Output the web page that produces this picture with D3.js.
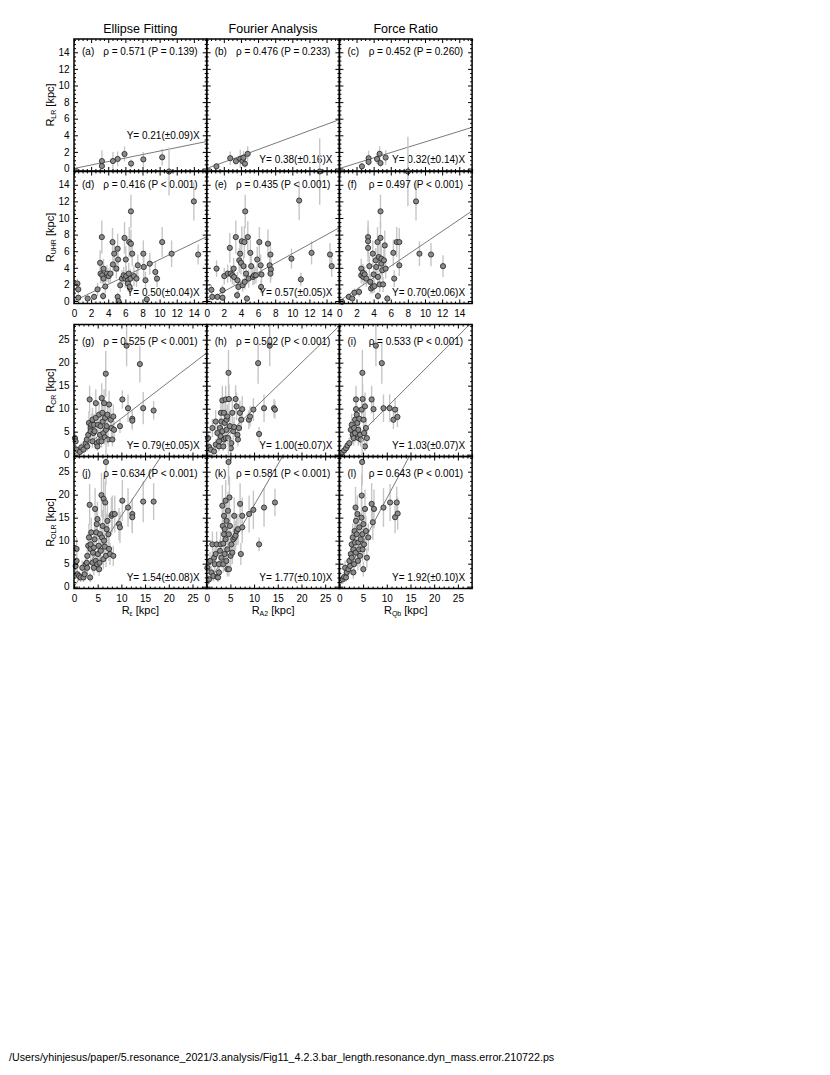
<!DOCTYPE html>
<meta charset="utf-8">
<style>
body { margin: 0; background: #fff; }
svg { font-family: "Liberation Sans", Arial, Helvetica, sans-serif; }
.frame { fill: none; stroke: #000; stroke-width: 1.5; }
.err { stroke: #c6c6c6; stroke-width: 1.4; }
.fit { stroke: #7a7a7a; stroke-width: 1; fill: none; }
.pt { fill: #8a8a8a; stroke: #222; stroke-width: 0.8; }
.lbl { font-size: 10px; fill: #000; }
.title { font-size: 12.5px; fill: #000; }
.axtitle { font-size: 11px; fill: #000; }
.footer { font-size: 10.7px; fill: #000; }
</style>
<body>
<script src="https://cdn.jsdelivr.net/npm/d3@7"></script>
<script>

// ---- data: [x, y, yerr] ----
var ptsA = [[3.26,0.9,1.3],[3.26,0.3,0.5],[4.55,0.9,1.1],[5.1,1.15,0.9],[5.9,1.75,0.9],[6.67,0.6,0.5],[8.1,1.1,0.9],[10.3,1.35,1.0]];
var ptsB = [[1.14,0.26,0.4],[2.75,1.24,0.8],[3.41,0.88,0.4],[3.92,1.15,1.1],[4.18,0.9,0.6],[4.3,1.3,0.8],[4.47,0.58,0.5],[4.79,1.77,0.9]];
var ptsC = [[2.63,0.26,0.4],[3.41,1.24,0.9],[3.41,0.8,0.4],[4.4,1.15,0.6],[4.7,1.77,0.9],[4.8,0.66,0.5],[5.4,1.32,0.9]];

var ptsD = [[0.4,2.1,0.6],[0.5,1.4,0.5],[0.5,0.4,0.4],[1.6,0.3,0.3],[2.35,0.5,0.4],[2.75,1.4,0.8],[3.4,0.6,0.5],[3.05,4.6,1.5],[3.1,3.3,1.2],[3.3,3.1,1.0],[3.25,7.7,2.0],[3.45,2.7,1.0],[3.65,1.75,0.8],[3.45,3.9,1.2],[3.85,3.3,1.0],[4.05,3.0,0.9],[4.25,3.3,1.1],[4.5,7.1,1.7],[4.55,4.4,1.4],[4.7,5.7,1.6],[4.95,3.9,1.2],[5.1,0.5,0.5],[5.2,0.0,0.4],[5.1,6.3,1.8],[5.15,5.0,1.5],[5.4,1.9,0.8],[5.6,2.7,1.0],[5.8,3.1,1.0],[6.0,2.7,1.1],[5.9,7.6,1.9],[6.05,5.0,1.6],[6.1,3.0,1.2],[6.3,2.5,1.0],[6.3,2.1,0.9],[6.4,3.3,1.3],[6.45,7.1,1.8],[6.5,1.7,0.8],[6.6,2.7,1.1],[6.65,10.8,2.0],[6.65,6.9,1.7],[6.8,5.7,1.5],[7.0,3.0,1.2],[7.3,2.7,1.0],[7.45,4.3,1.3],[8.1,5.7,1.6],[8.15,4.1,1.4],[8.35,2.5,1.0],[8.5,0.2,0.4],[8.85,4.5,1.3],[9.5,3.5,1.2],[9.7,2.7,1.0],[10.3,7.1,1.8],[11.4,5.7,1.6],[14.0,12.0,2.3],[14.5,5.6,1.2],[11.1,15.6,2.9]];
var ptsE = [[0.55,1.35,0.6],[0.65,0.5,0.4],[1.25,0.5,0.4],[1.15,3.9,1.0],[1.85,0.4,0.4],[1.85,1.3,0.6],[2.05,3.0,1.0],[2.45,3.3,1.1],[2.7,6.4,1.8],[2.8,3.3,1.0],[3.0,3.1,1.1],[3.15,3.9,1.3],[3.2,2.9,1.0],[3.4,7.7,2.0],[3.55,0.7,0.5],[3.6,2.5,1.0],[3.7,1.7,0.8],[3.8,4.9,1.5],[3.9,5.7,1.6],[4.0,4.6,1.4],[4.1,7.2,1.8],[4.2,1.9,0.8],[4.3,4.2,1.3],[4.4,7.1,1.9],[4.45,2.3,0.9],[4.5,10.8,2.0],[4.6,3.3,1.2],[4.7,0.3,0.4],[4.8,7.7,1.9],[4.9,2.7,1.1],[5.1,5.8,1.6],[5.2,4.2,1.3],[5.4,2.9,1.0],[5.55,3.1,1.1],[5.75,3.1,1.0],[5.9,5.0,1.5],[6.15,7.1,1.8],[6.3,4.3,1.3],[6.35,1.7,0.8],[6.4,3.2,1.1],[7.15,6.9,1.7],[7.35,4.3,1.3],[7.45,5.6,1.5],[7.5,3.8,1.2],[7.45,3.3,1.1],[9.9,5.1,1.2],[10.8,12.1,2.3],[11.0,2.6,0.8],[12.25,5.8,1.4],[14.4,5.6,1.4],[14.6,4.2,1.3],[13.2,15.6,4.0]];
var ptsF = [[0.3,-0.1,0.3],[1.1,0.5,0.4],[1.5,0.3,0.3],[1.75,1.0,0.5],[2.3,1.1,0.6],[2.55,3.9,1.2],[2.55,3.1,1.0],[2.75,3.4,1.1],[2.8,2.9,1.0],[2.95,3.2,1.0],[3.15,2.7,1.0],[3.35,7.7,2.0],[3.35,6.4,1.7],[3.35,7.2,1.8],[3.5,4.2,1.3],[3.6,2.3,0.9],[3.7,1.5,0.7],[3.9,5.7,1.6],[3.9,1.7,0.8],[4.0,3.2,1.1],[4.1,1.8,0.8],[4.25,4.9,1.5],[4.3,4.1,1.3],[4.45,7.1,1.8],[4.5,2.9,1.0],[4.5,0.6,0.5],[4.6,5.3,1.5],[4.7,2.0,0.9],[4.8,10.8,2.0],[4.8,7.6,1.9],[4.9,5.1,1.5],[4.9,4.5,1.4],[5.0,3.7,1.2],[5.1,2.0,0.9],[5.2,4.9,1.5],[5.3,6.7,1.8],[5.4,3.9,1.2],[5.6,0.3,0.4],[6.4,2.7,1.0],[6.3,5.8,1.6],[6.7,7.1,1.8],[7.0,7.1,1.7],[7.0,4.3,1.3],[8.95,12.0,2.3],[9.35,5.7,1.5],[10.7,5.6,1.4],[12.1,4.2,1.3],[8.0,15.6,4.2]];

var ptsG = [[0.2,3.6,1.5],[0.35,2.9,1.2],[0.55,1.1,0.8],[1.25,0.6,0.6],[1.55,1.6,1.0],[2.0,1.1,0.8],[2.45,2.5,1.2],[2.8,1.8,1.0],[2.7,3.3,1.5],[3.0,4.3,2.0],[3.15,6.9,2.5],[3.3,12.0,3.0],[3.5,5.8,2.2],[3.5,5.1,2.0],[3.65,6.5,2.4],[3.9,2.9,1.4],[3.9,7.6,2.6],[4.1,4.7,2.0],[4.2,6.5,2.4],[4.35,5.1,2.0],[4.6,11.2,3.0],[4.6,8.0,2.6],[4.8,2.5,1.2],[4.95,1.8,1.0],[5.05,6.5,2.4],[5.3,8.7,2.8],[5.3,2.9,1.4],[5.5,4.3,1.8],[5.6,6.2,2.2],[5.8,2.9,1.4],[5.85,12.3,3.2],[6.0,9.1,2.8],[6.05,7.2,2.5],[6.2,4.7,2.0],[6.35,11.2,3.0],[6.5,3.8,1.6],[6.55,8.0,2.6],[6.7,17.6,5.0],[6.75,5.4,2.0],[6.9,6.2,2.2],[7.05,8.7,2.8],[7.2,3.3,1.5],[7.4,10.9,3.0],[7.75,7.6,2.5],[7.9,5.8,2.2],[8.1,3.3,1.5],[8.3,8.3,2.6],[8.45,5.4,2.0],[9.7,6.2,1.5],[10.2,12.0,2.0],[11.1,23.7,4.5],[11.4,10.1,3.0],[12.3,7.8,2.0],[12.3,7.4,2.0],[13.9,19.7,4.0],[14.6,10.1,3.5],[16.8,9.6,2.0]];
var ptsH = [[0.3,3.6,1.5],[0.5,1.7,1.0],[0.85,1.1,0.8],[1.2,5.8,2.0],[1.55,0.7,0.6],[1.9,2.2,1.2],[1.9,7.2,2.5],[2.25,4.7,2.0],[2.6,2.9,1.4],[2.6,1.8,1.0],[2.8,5.8,2.2],[2.95,4.0,1.8],[3.0,9.1,2.8],[3.1,7.2,2.5],[3.3,11.8,3.2],[3.3,5.1,2.0],[3.5,1.8,1.0],[3.65,9.1,2.8],[3.65,3.3,1.5],[3.8,6.9,2.4],[4.0,12.0,3.0],[4.0,3.6,1.6],[4.2,5.4,2.0],[4.2,7.6,2.5],[4.35,8.3,2.6],[4.5,3.6,1.6],[4.6,17.8,5.0],[4.7,12.1,3.2],[4.9,6.2,2.2],[5.1,1.4,0.8],[5.2,2.5,1.2],[5.4,9.1,2.8],[5.6,5.1,2.0],[5.8,6.0,2.2],[6.1,12.1,3.0],[6.3,10.5,3.0],[6.5,4.3,1.8],[6.6,3.3,1.5],[6.8,5.8,2.2],[7.0,9.1,2.6],[7.3,7.6,2.4],[7.5,9.9,2.8],[8.9,7.6,2.0],[9.15,8.3,2.2],[9.85,9.8,2.5],[10.85,19.9,4.5],[11.05,4.5,1.5],[12.1,10.1,3.0],[13.3,23.7,4.5],[14.2,10.1,2.0],[14.4,9.8,2.0]];
var ptsI = [[0.5,0.4,0.5],[1.0,0.9,0.7],[1.4,1.4,0.8],[1.7,2.0,1.0],[2.1,2.5,1.2],[2.4,5.4,2.0],[2.6,6.5,2.4],[2.8,4.3,1.8],[3.0,3.6,1.6],[3.1,5.8,2.2],[3.3,7.6,2.5],[3.3,4.7,2.0],[3.5,12.0,3.0],[3.5,9.9,2.8],[3.65,8.7,2.8],[3.8,6.9,2.4],[4.0,5.4,2.0],[4.0,3.6,1.6],[4.2,7.8,2.5],[4.35,4.3,1.8],[4.5,3.3,1.5],[4.7,9.8,2.8],[4.85,17.8,5.0],[4.9,12.1,3.2],[5.1,7.6,2.5],[5.2,4.7,2.0],[5.4,1.8,1.0],[5.4,10.5,3.0],[5.6,5.8,2.2],[5.8,3.6,1.6],[6.8,12.0,3.0],[7.2,9.9,2.8],[7.7,23.7,4.5],[8.95,19.9,4.5],[9.3,10.1,3.0],[10.6,10.1,3.0],[11.4,7.6,2.0],[11.75,9.8,2.5],[12.25,8.2,2.2]];

var ptsJ = [[0.35,4.5,1.8],[0.55,8.2,2.5],[0.55,5.6,2.0],[0.7,2.7,1.2],[1.05,2.3,1.0],[1.4,2.0,1.0],[1.75,4.1,1.6],[2.0,2.0,1.0],[2.25,2.7,1.2],[2.45,4.9,1.8],[2.7,5.2,2.0],[2.8,6.7,2.4],[2.8,4.1,1.6],[3.0,8.9,2.8],[3.15,10.7,3.0],[3.3,17.8,4.5],[3.4,2.0,1.0],[3.5,8.2,2.6],[3.5,9.2,2.8],[3.65,11.8,3.2],[3.9,5.2,2.0],[4.0,7.4,2.5],[4.2,8.5,2.6],[4.2,4.1,1.6],[4.35,10.3,3.0],[4.45,16.9,4.5],[4.6,5.6,2.0],[4.7,11.8,3.2],[4.8,13.6,3.5],[4.9,4.9,1.8],[4.95,14.7,3.8],[5.05,7.1,2.4],[5.2,8.9,2.8],[5.3,3.8,1.5],[5.4,5.2,2.0],[5.5,11.4,3.2],[5.65,7.8,2.5],[5.8,19.9,4.8],[5.9,10.7,3.0],[6.05,13.2,3.5],[6.2,6.0,2.2],[6.25,19.1,4.5],[6.35,10.0,3.0],[6.5,8.7,2.8],[6.6,18.3,4.5],[6.75,27.1,5.0],[6.75,6.7,2.4],[6.9,12.5,3.4],[7.05,14.3,3.6],[7.25,11.4,3.2],[7.4,8.2,2.6],[7.6,7.1,2.4],[7.9,15.4,4.0],[8.1,15.8,4.0],[8.3,6.7,2.2],[8.6,15.8,4.0],[9.5,13.6,3.5],[9.7,12.9,3.4],[10.2,18.7,4.5],[11.4,17.2,4.2],[12.3,15.8,3.5],[12.3,15.1,3.5],[14.6,18.5,4.5],[16.8,18.5,4.0]];
var ptsK = [[0.15,4.1,1.6],[0.5,1.6,1.0],[0.7,5.6,2.0],[1.0,3.1,1.4],[1.2,9.2,2.8],[1.4,2.3,1.2],[1.55,6.3,2.2],[1.7,4.9,1.8],[1.9,7.1,2.4],[2.1,9.2,2.8],[2.25,2.1,1.0],[2.4,2.0,1.0],[2.6,4.9,1.8],[2.6,3.1,1.4],[2.8,7.8,2.6],[2.95,9.2,2.8],[3.1,6.3,2.2],[3.3,17.6,4.5],[3.4,13.2,3.6],[3.5,9.4,2.8],[3.5,4.9,1.8],[3.65,15.4,4.0],[3.65,11.4,3.2],[3.8,7.1,2.4],[3.8,12.5,3.4],[4.0,18.7,4.5],[4.0,10.3,3.0],[4.15,5.6,2.0],[4.2,14.3,3.8],[4.35,8.1,2.6],[4.35,3.8,1.6],[4.5,16.5,4.2],[4.6,27.1,5.0],[4.65,11.4,3.2],[4.7,3.8,1.6],[4.8,19.4,4.6],[4.9,13.2,3.6],[5.05,6.7,2.4],[5.2,9.2,2.8],[5.4,7.4,2.5],[5.6,10.3,3.0],[5.8,15.4,4.0],[5.9,10.7,3.0],[6.1,11.1,3.2],[6.3,12.1,3.2],[6.6,12.5,3.4],[7.05,18.0,4.5],[7.2,7.1,2.4],[7.5,15.4,4.0],[7.5,12.9,3.4],[8.95,15.8,4.0],[9.85,16.7,4.2],[11.05,9.2,1.5],[12.1,17.2,4.2],[14.4,18.3,3.0]];
var ptsL = [[0.7,1.6,1.0],[1.0,2.1,1.0],[1.2,4.1,1.6],[1.4,2.0,1.0],[1.55,3.1,1.4],[1.9,3.8,1.6],[2.1,5.6,2.0],[2.25,4.5,1.8],[2.4,7.1,2.4],[2.6,9.2,2.8],[2.6,6.3,2.2],[2.8,10.7,3.0],[2.95,8.1,2.6],[2.95,3.1,1.4],[3.1,4.9,1.8],[3.2,12.1,3.2],[3.3,9.6,2.8],[3.4,17.2,4.5],[3.45,7.4,2.5],[3.5,14.3,3.8],[3.65,11.4,3.2],[3.8,15.8,4.0],[3.9,5.6,2.0],[4.0,9.6,2.8],[4.15,8.1,2.6],[4.2,12.9,3.4],[4.35,6.7,2.4],[4.5,10.3,3.0],[4.65,15.0,4.0],[4.7,19.8,4.6],[4.8,27.1,5.0],[4.85,11.4,3.2],[4.9,8.1,2.6],[5.05,3.8,1.6],[5.05,13.6,3.6],[5.2,9.2,2.8],[5.4,16.9,4.2],[5.6,12.1,3.2],[5.8,6.3,2.2],[6.1,10.7,3.0],[6.8,18.0,4.5],[7.05,14.0,3.8],[7.3,16.9,4.2],[9.3,17.2,4.2],[10.7,18.3,4.0],[11.75,15.1,3.5],[12.1,18.3,3.5],[12.3,15.9,3.5]];

var pointSets = [ptsA, ptsB, ptsC, ptsD, ptsE, ptsF, ptsG, ptsH, ptsI, ptsJ, ptsK, ptsL];
var panelTags = ['a','b','c','d','e','f','g','h','i','j','k','l'];
var rhoVals = ['0.571','0.476','0.452','0.416','0.435','0.497','0.525','0.502','0.533','0.634','0.581','0.643'];
var pVals = ['= 0.139','= 0.233','= 0.260','< 0.001','< 0.001','< 0.001','< 0.001','< 0.001','< 0.001','< 0.001','< 0.001','< 0.001'];
var slopes = [0.21, 0.38, 0.32, 0.50, 0.57, 0.70, 0.79, 1.00, 1.03, 1.54, 1.77, 1.92];
var slopeErrs = [0.09, 0.16, 0.14, 0.04, 0.05, 0.06, 0.05, 0.07, 0.07, 0.08, 0.10, 0.10];

var colTitles = ['Ellipse Fitting', 'Fourier Analysis', 'Force Ratio'];
var xSubs = ['\u03b5', 'A2', 'Qb'];
var ySubs = ['LR', 'UHR', 'CR', 'OLR'];
var smallTicks = [0, 2, 4, 6, 8, 10, 12, 14];
var bigTicks = [0, 5, 10, 15, 20, 25];
var footerText = '/Users/yhinjesus/paper/5.resonance_2021/3.analysis/Fig11_4.2.3.bar_length.resonance.dyn_mass.error.210722.ps';

// ---- layout ----
var W = 830, H = 1075;
var left = 74, pw = 132.7, ph = 132;
var rowTops = [39, 171.5, 324.5, 456.5];
var fontFam = '"Liberation Sans", Arial, Helvetica, sans-serif';
var fmt2 = d3.format('.2f');

var svg = d3.select('body').append('svg')
    .attr('width', W)
    .attr('height', H);

function xScaleFor(row, col) {
    var x0 = left + col * pw;
    return d3.scaleLinear().domain(row < 2 ? [0, 15.5] : [0, 28]).range([x0, x0 + pw]);
}
function yScaleFor(row) {
    var y0 = rowTops[row];
    return d3.scaleLinear().domain(row < 2 ? [-0.3, 15.6] : [-0.4, 28.3]).range([y0 + ph, y0]);
}

function axisGroup(g, axisFn, scale, vals, size, labels, pad, tr) {
    var a = axisFn(scale).tickValues(vals).tickSize(size).tickPadding(pad)
        .tickFormat(labels ? d3.format('d') : '');
    var s = g.append('g').attr('transform', tr).call(a);
    s.select('.domain').remove();
    s.attr('font-family', fontFam).attr('font-size', 10);
    s.selectAll('line').attr('stroke', '#000').attr('stroke-width', 1);
    return s;
}

pointSets.forEach(function(pts, i) {
    var row = Math.floor(i / 3), col = i % 3;
    var x = xScaleFor(row, col), y = yScaleFor(row);
    var x0 = x.range()[0], x1 = x.range()[1], y0 = rowTops[row], y1 = y0 + ph;
    var g = svg.append('g').attr('class', 'panel');

    var small = row < 2;
    var majors = small ? smallTicks : bigTicks;
    var step = small ? 0.5 : 1;
    var minorsX = d3.range(0, x.domain()[1] + 1e-6, step).filter(function(v) { return majors.indexOf(v) < 0; });
    var minorsY = d3.range(0, y.domain()[1] + 1e-6, step).filter(function(v) { return majors.indexOf(v) < 0; });
    var showX = (row === 1 || row === 3);
    var showY = (col === 0);

    // error bars
    g.selectAll('.err').data(pts).enter().append('line')
        .attr('class', 'err')
        .attr('x1', function(d) { return x(d[0]); })
        .attr('x2', function(d) { return x(d[0]); })
        .attr('y1', function(d) { return y(d[1] - d[2]); })
        .attr('y2', function(d) { return y(d[1] + d[2]); });

    // fit line, clipped to the frame
    var cid = 'clip-' + panelTags[i];
    svg.append('clipPath').attr('id', cid).append('rect')
        .attr('x', x0).attr('y', y0).attr('width', pw).attr('height', ph);
    var xmax = x.domain()[1];
    g.append('line').attr('class', 'fit')
        .attr('clip-path', 'url(#' + cid + ')')
        .attr('x1', x(0)).attr('y1', y(0))
        .attr('x2', x(xmax)).attr('y2', y(slopes[i] * xmax));

    // points
    g.selectAll('.pt').data(pts).enter().append('circle')
        .attr('class', 'pt')
        .attr('cx', function(d) { return x(d[0]); })
        .attr('cy', function(d) { return y(d[1]); })
        .attr('r', 2.6);

    // ticks on four sides, pointing inward
    axisGroup(g, d3.axisBottom, x, majors, -4, showX, 6.5, 'translate(0,' + y1 + ')');
    axisGroup(g, d3.axisBottom, x, minorsX, -2, false, 0, 'translate(0,' + y1 + ')');
    axisGroup(g, d3.axisTop, x, majors, -4, false, 0, 'translate(0,' + y0 + ')');
    axisGroup(g, d3.axisTop, x, minorsX, -2, false, 0, 'translate(0,' + y0 + ')');
    axisGroup(g, d3.axisLeft, y, majors, -4, showY, 4.5, 'translate(' + x0 + ',0)');
    axisGroup(g, d3.axisLeft, y, minorsY, -2, false, 0, 'translate(' + x0 + ',0)');
    axisGroup(g, d3.axisRight, y, majors, -4, false, 0, 'translate(' + x1 + ',0)');
    axisGroup(g, d3.axisRight, y, minorsY, -2, false, 0, 'translate(' + x1 + ',0)');

    g.append('rect').attr('class', 'frame')
        .attr('x', x0).attr('y', y0).attr('width', pw).attr('height', ph);

    // annotations
    var tBase = y0 + (small ? 16 : 20);
    g.append('text').attr('class', 'lbl')
        .attr('x', x0 + 8).attr('y', tBase)
        .text('(' + panelTags[i] + ')');
    g.append('text').attr('class', 'lbl')
        .attr('x', x1 - 9).attr('y', tBase)
        .attr('text-anchor', 'end')
        .text('\u03c1 = ' + rhoVals[i] + ' (P ' + pVals[i] + ')');
    g.append('text').attr('class', 'lbl')
        .attr('x', x1 - 7).attr('y', i === 0 ? y1 - 32 : y1 - 8)
        .attr('text-anchor', 'end')
        .text('Y= ' + fmt2(slopes[i]) + '(\u00b1' + fmt2(slopeErrs[i]) + ')X');
});

// column titles
colTitles.forEach(function(t, c) {
    svg.append('text').attr('class', 'title')
        .attr('x', left + (c + 0.5) * pw).attr('y', 33)
        .attr('text-anchor', 'middle')
        .text(t);
});

// axis titles
function subLabel(sel, sub) {
    sel.append('tspan').text('R');
    sel.append('tspan').attr('font-size', '7px').attr('dy', 2).text(sub);
    sel.append('tspan').attr('dy', -2).text(' [kpc]');
}
ySubs.forEach(function(s, r) {
    var cy = rowTops[r] + ph / 2;
    var t = svg.append('text').attr('class', 'axtitle')
        .attr('text-anchor', 'middle')
        .attr('transform', 'translate(54,' + cy + ') rotate(-90)');
    subLabel(t, s);
});
xSubs.forEach(function(s, c) {
    var t = svg.append('text').attr('class', 'axtitle')
        .attr('text-anchor', 'middle')
        .attr('x', left + (c + 0.5) * pw).attr('y', 614);
    subLabel(t, s);
});

svg.append('text').attr('class', 'footer')
    .attr('x', 9).attr('y', 1061)
    .text(footerText);

</script>
</body>
